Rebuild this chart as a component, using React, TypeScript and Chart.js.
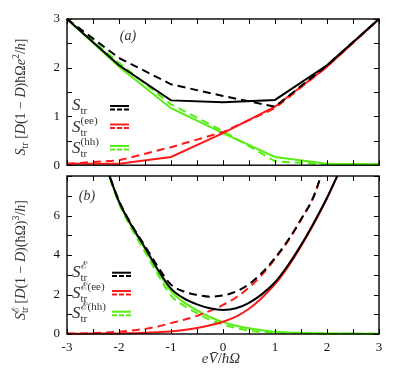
import React, { useEffect, useRef } from 'react';
import { Chart, registerables } from 'chart.js';
Chart.register(...registerables);

// ---- Panel (a): shot noise, piecewise linear ----
const xA = [-3, -2, -1, 0, 1, 2, 3];
const totA = [3.0, 2.05, 1.33, 1.29, 1.34, 2.05, 3.0];
const totAd = [3.0, 2.2, 1.66, 1.42, 1.2, 2.05, 3.0];
const eeA = [0.03, 0.03, 0.17, 0.66, 1.2, 2.02, 3.0];
const eeAd = [0.03, 0.1, 0.37, 0.68, 1.17, 2.02, 3.0];
const hhA = [3.0, 2.02, 1.17, 0.66, 0.17, 0.03, 0.02];
const hhAd = [3.0, 2.1, 1.25, 0.7, 0.08, 0.02, 0.02];

// ---- Panel (b): energy noise ----
const xB = [-3, -2.75, -2.5, -2.25, -2, -1.75, -1.5, -1.25, -1, -0.75, -0.5, -0.25, 0, 0.25, 0.5, 0.75, 1, 1.25, 1.5, 1.75, 2, 2.25, 2.5, 2.75, 3];
const totB = [null, null, null, 8.5, 6.7, 5.45, 4.37, 3.25, 2.3, 1.8, 1.5, 1.3, 1.22, 1.3, 1.58, 2.02, 2.62, 3.48, 4.5, 5.65, 6.9, 8.3, null, null, null];
const totBd = [null, null, null, 8.5, 6.75, 5.5, 4.45, 3.4, 2.5, 2.15, 1.98, 1.89, 1.95, 2.15, 2.52, 3.1, 3.85, 4.75, 5.8, 7.0, 9.0, null, null, null, null];
const eeB = [0.01, 0.01, 0.02, 0.02, 0.03, 0.04, 0.06, 0.09, 0.13, 0.2, 0.3, 0.44, 0.62, 0.88, 1.28, 1.84, 2.52, 3.4, 4.45, 5.6, 6.87, 8.3, null, null, null];
const eeBd = [0.02, 0.03, 0.05, 0.08, 0.12, 0.18, 0.26, 0.38, 0.55, 0.72, 0.92, 1.17, 1.47, 1.85, 2.35, 3.0, 3.8, 4.7, 5.8, 7.0, 9.0, null, null, null, null];
const hhB = [null, null, null, 8.5, 6.67, 5.41, 4.31, 3.16, 2.17, 1.6, 1.2, 0.86, 0.6, 0.42, 0.29, 0.19, 0.11, 0.08, 0.06, 0.04, 0.03, 0.02, 0.02, 0.01, 0.01];
const hhBd = [null, null, null, 8.45, 6.6, 5.3, 4.15, 3.0, 1.95, 1.43, 1.05, 0.72, 0.48, 0.3, 0.17, 0.1, 0.06, 0.04, 0.03, 0.02, 0.02, 0.01, 0.01, 0.01, 0.01];

const yTicksA = [0, 1, 2, 3];
const yTicksB = [0, 2, 4, 6];
const xTickLabels = [-3, -2, -1, 0, 1, 2, 3];

const BLACK = '#000000';
const RED = '#ff1a1a';
const GREEN = '#55ee11';
const SERIF = '"Liberation Serif", "DejaVu Serif", serif';
const TXT = '#333333';

type Seg = { t: string; it?: boolean; sz: number; dy?: number; stack?: boolean };

function fontOf(s: Seg) {
  return `${s.it ? 'italic ' : ''}${s.sz}px ${SERIF}`;
}

function layoutRich(ctx: CanvasRenderingContext2D, segs: Seg[]) {
  let x = 0;
  let pending = 0;
  const out: { s: Seg; x: number }[] = [];
  for (const s of segs) {
    ctx.font = fontOf(s);
    const w = ctx.measureText(s.t).width;
    out.push({ s, x });
    if (s.stack) pending = w;
    else {
      x += Math.max(w, pending);
      pending = 0;
    }
  }
  return { out, width: x };
}

function drawRich(ctx: CanvasRenderingContext2D, segs: Seg[], x: number, y: number, center = false, color = TXT) {
  const { out, width } = layoutRich(ctx, segs);
  const x0 = center ? x - width / 2 : x;
  ctx.fillStyle = color;
  ctx.textBaseline = 'alphabetic';
  ctx.textAlign = 'left';
  for (const o of out) {
    ctx.font = fontOf(o.s);
    ctx.fillText(o.s.t, x0 + o.x, y + (o.s.dy || 0));
  }
}

function mk(xs: number[], ys: (number | null)[]) {
  return xs.map((x, i) => ({ x, y: ys[i] }));
}

function ds(label: string, xs: number[], ys: (number | null)[], color: string, dashed: boolean, order: number, smooth: boolean, clip: any) {
  return {
    label,
    data: mk(xs, ys),
    borderColor: color,
    backgroundColor: color,
    borderWidth: 2,
    borderDash: dashed ? [8, 5] : [],
    pointRadius: 0,
    fill: false,
    spanGaps: false,
    order,
    clip,
    cubicInterpolationMode: smooth ? 'monotone' : 'default',
    tension: 0,
  };
}

function makeFrame(xStep: number, yStep: number) {
  return {
    id: 'frame',
    afterDatasetsDraw(chart: any) {
      const { ctx, chartArea: a, scales } = chart;
      const xs = scales.x;
      const ys = scales.y;
      ctx.save();
      ctx.strokeStyle = '#000';
      ctx.lineWidth = 1;
      const tl = 5;
      ctx.beginPath();
      for (let v = xs.min; v <= xs.max + 1e-9; v += xStep) {
        const p = Math.round(xs.getPixelForValue(v)) + 0.5;
        ctx.moveTo(p, a.bottom);
        ctx.lineTo(p, a.bottom - tl);
        ctx.moveTo(p, a.top);
        ctx.lineTo(p, a.top + tl);
      }
      for (let v = ys.min; v <= ys.max + 1e-9; v += yStep) {
        const p = Math.round(ys.getPixelForValue(v)) + 0.5;
        ctx.moveTo(a.left, p);
        ctx.lineTo(a.left + tl, p);
        ctx.moveTo(a.right, p);
        ctx.lineTo(a.right - tl, p);
      }
      ctx.stroke();
      ctx.lineWidth = 1.4;
      ctx.strokeRect(a.left, a.top, a.right - a.left, a.bottom - a.top);
      ctx.restore();
    },
  };
}

type Row = { base: number; ys: number; yd: number; color: string; sup: string | null };

function drawLegend(ctx: CanvasRenderingContext2D, rows: Row[], sx: number, lx0: number, lx1: number) {
  for (const r of rows) {
    const segs: Seg[] = [{ t: 'S', it: true, sz: 17 }];
    if (r.sup) segs.push({ t: r.sup, sz: 11, dy: -8, stack: true });
    segs.push({ t: 'tr', sz: 11, dy: 4 });
    drawRich(ctx, segs, sx, r.base, false, TXT);
    ctx.save();
    ctx.strokeStyle = r.color;
    ctx.lineWidth = 2;
    ctx.beginPath();
    ctx.moveTo(lx0, r.ys);
    ctx.lineTo(lx1, r.ys);
    ctx.stroke();
    ctx.setLineDash([5, 2]);
    ctx.beginPath();
    ctx.moveTo(lx0, r.yd);
    ctx.lineTo(lx1, r.yd);
    ctx.stroke();
    ctx.restore();
  }
}

function drawVTitle(ctx: CanvasRenderingContext2D, segs: Seg[], bx: number, cy: number) {
  ctx.save();
  ctx.translate(bx, cy);
  ctx.rotate(-Math.PI / 2);
  drawRich(ctx, segs, 0, 0, true, TXT);
  ctx.restore();
}

const tickFont = { family: SERIF, size: 13 };

export default function App() {
  const refA = useRef<HTMLCanvasElement>(null);
  const refB = useRef<HTMLCanvasElement>(null);

  useEffect(() => {
    const clipA = { left: 3, right: 3, top: 3, bottom: 3 };
    const decoA = {
      id: 'decoA',
      afterDraw(chart: any) {
        const ctx = chart.ctx as CanvasRenderingContext2D;
        drawRich(ctx, [{ t: '(a)', it: true, sz: 14 }], 128, 40, true, TXT);
        drawLegend(ctx, [
          { base: 110, ys: 106, yd: 109.5, color: BLACK, sup: null },
          { base: 132, ys: 124.5, yd: 128, color: RED, sup: '(ee)' },
          { base: 153, ys: 146, yd: 149.5, color: GREEN, sup: '(hh)' },
        ], 72, 110, 129);
        drawVTitle(ctx, [
          { t: 'S', it: true, sz: 14 },
          { t: 'tr', sz: 10, dy: 3 },
          { t: ' [', sz: 14 },
          { t: 'D', it: true, sz: 14 },
          { t: '(1 − ', sz: 14 },
          { t: 'D', it: true, sz: 14 },
          { t: ')ħΩ', sz: 14 },
          { t: 'e', it: true, sz: 14 },
          { t: '2', sz: 10, dy: -6 },
          { t: '/', sz: 14 },
          { t: 'h', it: true, sz: 14 },
          { t: ']', sz: 14 },
        ], 25, 97);
      },
    };
    const chartA = new Chart(refA.current!, {
      type: 'line',
      data: {
        datasets: [
          ds('tot', xA, totA, BLACK, false, 1, false, clipA),
          ds('totd', xA, totAd, BLACK, true, 2, false, clipA),
          ds('ee', xA, eeA, RED, false, 3, false, clipA),
          ds('eed', xA, eeAd, RED, true, 4, false, clipA),
          ds('hh', xA, hhA, GREEN, false, 5, false, clipA),
          ds('hhd', xA, hhAd, GREEN, true, 6, false, clipA),
        ] as any,
      },
      options: {
        animation: false,
        responsive: false,
        events: [],
        layout: { padding: { left: 0, right: 16, top: 19, bottom: 4 } },
        plugins: { legend: { display: false }, tooltip: { enabled: false } },
        scales: {
          x: { type: 'linear', min: -3, max: 3, display: false },
          y: {
            type: 'linear',
            min: 0,
            max: 3,
            grid: { display: false, drawTicks: false },
            border: { display: false },
            afterBuildTicks: (s: any) => { s.ticks = yTicksA.map((v) => ({ value: v })); },
            afterFit: (s: any) => { s.width = 67; },
            ticks: { color: '#111', font: tickFont, padding: 7, callback: (v: any) => String(v) },
          },
        },
      },
      plugins: [makeFrame(0.5, 0.5), decoA],
    } as any);

    const clipB = { left: 3, right: 3, top: 0, bottom: 3 };
    const decoB = {
      id: 'decoB',
      afterDraw(chart: any) {
        const ctx = chart.ctx as CanvasRenderingContext2D;
        drawRich(ctx, [{ t: '(b)', it: true, sz: 14 }], 87, 40, true, TXT);
        drawLegend(ctx, [
          { base: 117, ys: 112.7, yd: 116, color: BLACK, sup: 'ℰ' },
          { base: 138, ys: 131, yd: 134.5, color: RED, sup: 'ℰ(ee)' },
          { base: 158, ys: 151.7, yd: 155.3, color: GREEN, sup: 'ℰ(hh)' },
        ], 72, 112, 131);
        drawVTitle(ctx, [
          { t: 'S', it: true, sz: 14 },
          { t: 'ℰ', sz: 10, dy: -6, stack: true },
          { t: 'tr', sz: 10, dy: 3 },
          { t: ' [', sz: 14 },
          { t: 'D', it: true, sz: 14 },
          { t: '(1 − ', sz: 14 },
          { t: 'D', it: true, sz: 14 },
          { t: ')(ħΩ)', sz: 14 },
          { t: '3', sz: 10, dy: -6 },
          { t: '/', sz: 14 },
          { t: 'h', it: true, sz: 14 },
          { t: ']', sz: 14 },
        ], 25, 100);
        drawRich(ctx, [
          { t: 'eV̄', it: true, sz: 15 },
          { t: '/', sz: 15 },
          { t: 'ħΩ', it: true, sz: 15 },
        ], 221, 203, true, TXT);
      },
    };
    const chartB = new Chart(refB.current!, {
      type: 'line',
      data: {
        datasets: [
          ds('tot', xB, totB, BLACK, false, 1, true, clipB),
          ds('totd', xB, totBd, BLACK, true, 2, true, clipB),
          ds('ee', xB, eeB, RED, false, 3, true, clipB),
          ds('eed', xB, eeBd, RED, true, 4, true, clipB),
          ds('hh', xB, hhB, GREEN, false, 5, true, clipB),
          ds('hhd', xB, hhBd, GREEN, true, 6, true, clipB),
        ] as any,
      },
      options: {
        animation: false,
        responsive: false,
        events: [],
        layout: { padding: { left: 0, right: 16, top: 16, bottom: 0 } },
        plugins: { legend: { display: false }, tooltip: { enabled: false } },
        scales: {
          x: {
            type: 'linear',
            min: -3,
            max: 3,
            grid: { display: false, drawTicks: false },
            border: { display: false },
            afterBuildTicks: (s: any) => { s.ticks = xTickLabels.map((v) => ({ value: v })); },
            afterFit: (s: any) => { s.height = 44; },
            ticks: { color: '#111', font: tickFont, padding: 6, maxRotation: 0, autoSkip: false, callback: (v: any) => String(v) },
          },
          y: {
            type: 'linear',
            min: 0,
            max: 8,
            grid: { display: false, drawTicks: false },
            border: { display: false },
            afterBuildTicks: (s: any) => { s.ticks = yTicksB.map((v) => ({ value: v })); },
            afterFit: (s: any) => { s.width = 67; },
            ticks: { color: '#111', font: tickFont, padding: 7, callback: (v: any) => String(v) },
          },
        },
      },
      plugins: [makeFrame(0.5, 1), decoB],
    } as any);

    return () => {
      chartA.destroy();
      chartB.destroy();
    };
  }, []);

  return (
    <div style={{ position: 'absolute', left: 0, top: 0, width: 395, height: 378, background: '#fff' }}>
      <canvas ref={refA} width={395} height={180} style={{ position: 'absolute', left: 0, top: 0 }} />
      <canvas ref={refB} width={395} height={218} style={{ position: 'absolute', left: 0, top: 160 }} />
    </div>
  );
}
